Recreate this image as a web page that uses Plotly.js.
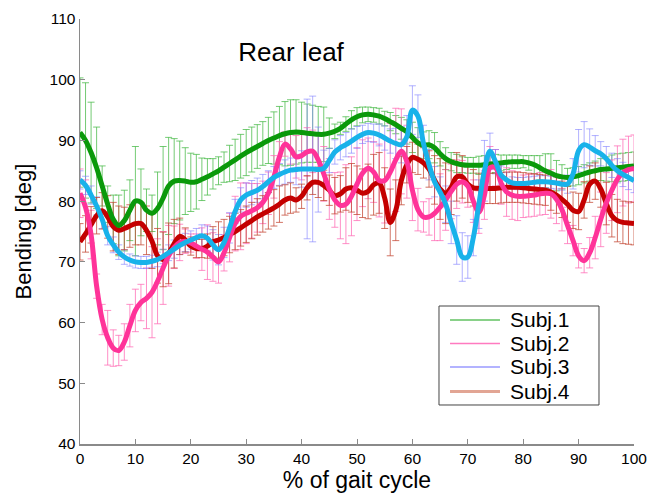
<!DOCTYPE html>
<html>
<head>
<meta charset="utf-8">
<script src="https://cdn.plot.ly/plotly-3.0.1.min.js"></script>
<style>html,body{margin:0;padding:0;background:#fff;}#chart{width:656px;height:500px;}</style>
</head>
<body>
<div id="chart"></div>
<script>
// % of gait cycle sample grid (0..100, step 1)
var gait = [];
for (var i = 0; i <= 100; i++) gait.push(i);

var seriesNames = ["Subj.1", "Subj.2", "Subj.3", "Subj.4"];

var subj1Mean = [91.3,90.0,88.0,85.5,82.5,79.5,77.0,76.0,76.8,78.5,
80.0,79.8,78.5,78.0,78.8,80.5,82.5,83.3,83.4,83.3,
83.1,83.2,83.6,84.0,84.5,85.0,85.6,86.2,86.8,87.4,
88.0,88.5,89.0,89.5,90.0,90.4,90.8,91.1,91.3,91.4,
91.3,91.2,91.1,91.0,91.0,91.2,91.5,92.0,92.7,93.4,
93.9,94.2,94.3,94.2,94.0,93.6,93.1,92.6,92.0,91.4,
90.5,89.6,89.2,89.3,88.8,87.8,87.0,86.5,86.2,86.0,
85.9,85.9,85.9,86.0,86.1,86.2,86.3,86.4,86.5,86.5,
86.5,86.3,86.0,85.5,85.0,84.6,84.2,84.0,83.9,84.0,
84.2,84.5,84.8,85.0,85.2,85.3,85.4,85.5,85.6,85.7,85.8];
var subj1Err = [9,9.5,8.3,6.7,3.3,3,4,5,5,5,
9,5.5,3.5,3,6,8.5,8,7,6.5,5.5,
4.8,4.5,3.5,3,2.5,2.3,2.5,3,3.4,3.6,
3.8,3.7,3.6,3.6,3.8,4.3,4.8,5.3,5.4,5.3,
5,4.8,4.7,4.6,4.5,2.5,1.2,1,1.2,1.5,
1.5,1.3,1.2,1.2,1.3,1.2,1.5,1.5,1.8,2,
2.5,2.5,2.2,2.3,2.5,2,1.8,1.5,1.5,1.3,
1.3,1.3,1.5,1.5,1.5,1.5,1.3,1.2,1.1,1.1,
1,1.2,1.5,2,2.8,3.2,2.5,2,1.5,1.5,
1.5,1.5,1.5,1.6,1.8,2,2.2,2.3,2.3,2.3,2.3];

var subj2Mean = [81.3,79.0,74.5,66.0,60.5,57.5,55.8,55.4,56.8,59.5,
62.0,63.3,64.0,65.0,66.8,69.0,71.0,72.4,73.2,73.4,
73.1,72.6,72.1,71.6,70.8,70.0,71.5,74.0,76.3,77.5,
78.0,78.4,78.9,79.8,81.3,84.0,87.3,89.4,88.6,87.3,
87.5,88.1,88.2,86.8,84.5,82.0,80.2,79.3,79.5,80.8,
82.8,84.6,85.4,84.8,83.4,83.4,84.8,86.8,88.2,86.5,
81.8,78.6,77.4,77.4,78.0,79.0,80.2,81.6,82.8,83.2,
82.5,80.0,78.2,81.0,85.5,85.5,83.0,81.5,81.0,80.8,
80.8,80.9,81.0,81.2,81.3,81.2,80.3,78.6,76.0,73.5,
71.0,70.2,71.5,74.0,77.0,79.7,81.8,83.6,84.7,85.2,85.4];
var subj2Err = [4,4.5,4,2,2.5,4.5,3,2.5,3,3.5,
3.5,3,5,7.5,7,6,5,3.5,3,2,
1.5,2,3.5,4.5,4,3.5,3,4,4.5,5.5,
5,4.5,4,3.5,3.5,3.5,2.5,2,2.5,3.5,
4,4,3.5,4,4.5,5,4.5,5.5,6.5,6.5,
6,5.5,5,5,6,7,8,8.5,7,6,
5,3.5,2.5,3,4.5,5.5,5,4.5,4,3.5,
3.5,3.5,3.5,4,3.5,3,3.5,4,4,4,
3.5,3.5,3.5,3.5,3.5,4,4,3.5,3,2.5,
2,2,2.5,3.5,4.5,5,5,5.5,5.5,5.5,5.5];

var subj3Mean = [83.5,82.6,81.0,79.2,77.0,74.3,72.8,71.6,70.8,70.3,
70.0,69.9,69.9,70.1,70.4,70.9,71.5,72.1,72.7,73.2,
73.6,74.0,74.3,73.9,72.8,72.0,73.2,75.6,78.3,80.2,
81.0,81.4,81.8,82.4,83.2,83.9,84.4,84.8,85.1,85.2,
85.3,85.3,85.3,85.2,85.4,86.7,88.1,88.8,89.3,89.9,
90.5,91.0,91.3,91.2,90.9,90.4,89.9,89.5,89.3,90.6,
95.0,94.0,89.5,86.0,83.2,81.5,79.5,76.5,73.6,70.8,
70.8,74.0,79.5,85.0,88.2,86.5,84.3,83.5,83.0,82.9,
82.9,83.0,83.1,83.2,83.2,83.1,83.0,82.8,82.8,84.5,
88.3,89.3,88.9,88.3,87.8,87.0,85.9,85.0,84.4,83.9,83.4];
var subj3Err = [1.5,1.5,1.5,1.5,1.5,1.5,1.3,1.2,1.2,1.0,
1,1,1,1,1.2,1.2,1.3,1.5,1.5,1.5,
1.5,1.5,1.8,2,2.5,2.5,2.5,2.5,2,2,
2,2,2,2,1.8,1.8,1.8,2,2,2.5,
3,11.5,12,7,3,2,2,2,2,2,
1.8,1.5,1.5,1.5,1.8,2,2,2.5,3,3.5,
4,3.5,3,2.5,2.5,2.5,3,3.5,4,4,
3.5,3,4,5,3,2,1.5,1.2,1,1,
1,1,1,1,1,1,1,1,1.5,2.5,
3.5,3.8,3,2.5,2,2,2,2,2,2,2];

var subj4Mean = [73.3,74.6,76.1,77.6,78.4,77.4,75.8,75.2,75.5,75.9,
76.3,76.3,75.2,73.4,71.0,70.4,71.4,73.0,74.2,73.6,
72.6,72.2,72.2,72.6,73.3,73.6,74.0,74.5,75.0,75.6,
76.2,76.8,77.4,77.9,78.4,78.9,79.5,80.2,80.5,80.2,
80.8,82.2,83.1,83.1,82.6,81.8,80.9,81.2,82.0,82.2,
81.8,81.3,81.6,82.7,83.0,80.5,76.5,78.5,83.4,86.0,
87.2,86.9,86.3,85.3,83.5,82.0,81.3,82.3,84.0,84.0,
82.8,82.2,82.1,82.1,82.1,82.1,82.2,82.3,82.3,82.3,
82.2,82.1,82.0,81.9,81.8,81.5,81.0,80.3,79.5,78.5,
78.3,80.2,82.8,83.3,82.0,79.6,77.6,76.8,76.5,76.4,76.3];
var subj4Err = [3,3,3,3,3,3.5,4,4,3.5,3.5,
3.5,3.5,4,4.5,4.5,4.5,5,4,3,2,
1.5,1.5,1.5,2,2.5,3,3,3,3,3,
3,3,3,3,3,3,3,2.5,2.5,2,
2,2,2,2.5,2.5,2.5,3,3,3.5,4,
4,4,4.5,5,5,5,5.5,5,4,3,
2.5,2.5,2.5,3,4,5,5,4.5,4,3.5,
3,3,2.5,2.5,2.5,2.5,2.5,2.5,2.5,2.5,
2.5,2.5,2.5,2.5,2.5,3,3,3,3,3,
3,3,3,3,3,3.5,3.5,3.5,3.5,3.5,3.5];

var xTicks = [0,10,20,30,40,50,60,70,80,90,100];
var yTicks = [40,50,60,70,80,90,100,110];

var means = [subj1Mean, subj2Mean, subj3Mean, subj4Mean];
var errs = [subj1Err, subj2Err, subj3Err, subj4Err];
var thinColors = ["rgba(70,185,70,0.75)", "rgba(255,105,180,0.75)", "rgba(125,125,255,0.6)", "rgba(195,70,50,0.75)"];
var legendColors = ["#62c262", "#ff7ac0", "#9a9aff", "#e2a594"];
var legendWidths = [1.5, 1.5, 1.5, 3];
var thickColors = ["#0a990a", "#ff3399", "#18b2ea", "#c40000"];

var traces = [];
for (var s = 0; s < 4; s++) {
  traces.push({
    x: gait, y: means[s], type: "scatter", mode: "lines",
    name: seriesNames[s], showlegend: false, hoverinfo: "skip",
    line: {color: thinColors[s], width: 1},
    error_y: {type: "data", array: errs[s], visible: true, color: thinColors[s], thickness: 1, width: 3.5}
  });
}
var thickOrder = [3, 0, 1, 2];
thickOrder.forEach(function (s) {
  traces.push({
    x: gait, y: means[s], type: "scatter", mode: "lines",
    name: seriesNames[s], showlegend: false,
    line: {color: thickColors[s], width: 5, shape: "spline", smoothing: 1}
  });
});

var font = "Liberation Sans, Arial, sans-serif";

// legend box drawn in plot-area paper coordinates
var shapes = [{type: "rect", xref: "paper", yref: "paper", x0: 0.648, x1: 0.9368, y0: 0.0918, y1: 0.3247,
               line: {color: "#444444", width: 1}, fillcolor: "#ffffff", layer: "above"}];
var annotations = [];
var rowY = [0.2918, 0.2365, 0.1812, 0.1235];
for (var k = 0; k < 4; k++) {
  shapes.push({type: "line", xref: "paper", yref: "paper", x0: 0.6679, x1: 0.7581, y0: rowY[k], y1: rowY[k],
               line: {color: legendColors[k], width: legendWidths[k]}, layer: "above"});
  annotations.push({xref: "paper", yref: "paper", x: 0.7726, y: rowY[k], xanchor: "left", yanchor: "middle",
                    text: seriesNames[k], showarrow: false, font: {family: font, size: 21, color: "#000"}});
}

var layout = {
  width: 656, height: 500,
  paper_bgcolor: "#ffffff", plot_bgcolor: "#ffffff",
  margin: {l: 80, r: 22, t: 19, b: 56},
  font: {family: font, color: "#000", size: 15.5},
  title: {text: "Rear leaf", font: {family: font, size: 26, color: "#000"},
          x: 0.381, xanchor: "center", y: 0.897, yanchor: "middle", xref: "paper", yref: "container"},
  xaxis: {range: [0, 100], tickvals: xTicks, ticktext: xTicks.map(String),
          showgrid: false, zeroline: false, showline: true, linecolor: "#8a8a8a", linewidth: 1.5,
          ticks: "inside", ticklen: 5, tickcolor: "#8a8a8a", tickwidth: 1,
          tickfont: {family: font, size: 15.5, color: "#000"},
          title: {text: "% of gait cycle", font: {family: font, size: 23, color: "#000"}, standoff: 6}},
  yaxis: {range: [40, 110], tickvals: yTicks, ticktext: yTicks.map(String),
          showgrid: false, zeroline: false, showline: true, linecolor: "#8a8a8a", linewidth: 1.5,
          ticks: "inside", ticklen: 5, tickcolor: "#8a8a8a", tickwidth: 1,
          tickfont: {family: font, size: 15.5, color: "#000"},
          title: {text: "Bending [deg]", font: {family: font, size: 22, color: "#000"}, standoff: 12}},
  shapes: shapes,
  annotations: annotations,
  showlegend: false
};

Plotly.newPlot("chart", traces, layout, {displayModeBar: false, staticPlot: true});
</script>
</body>
</html>
